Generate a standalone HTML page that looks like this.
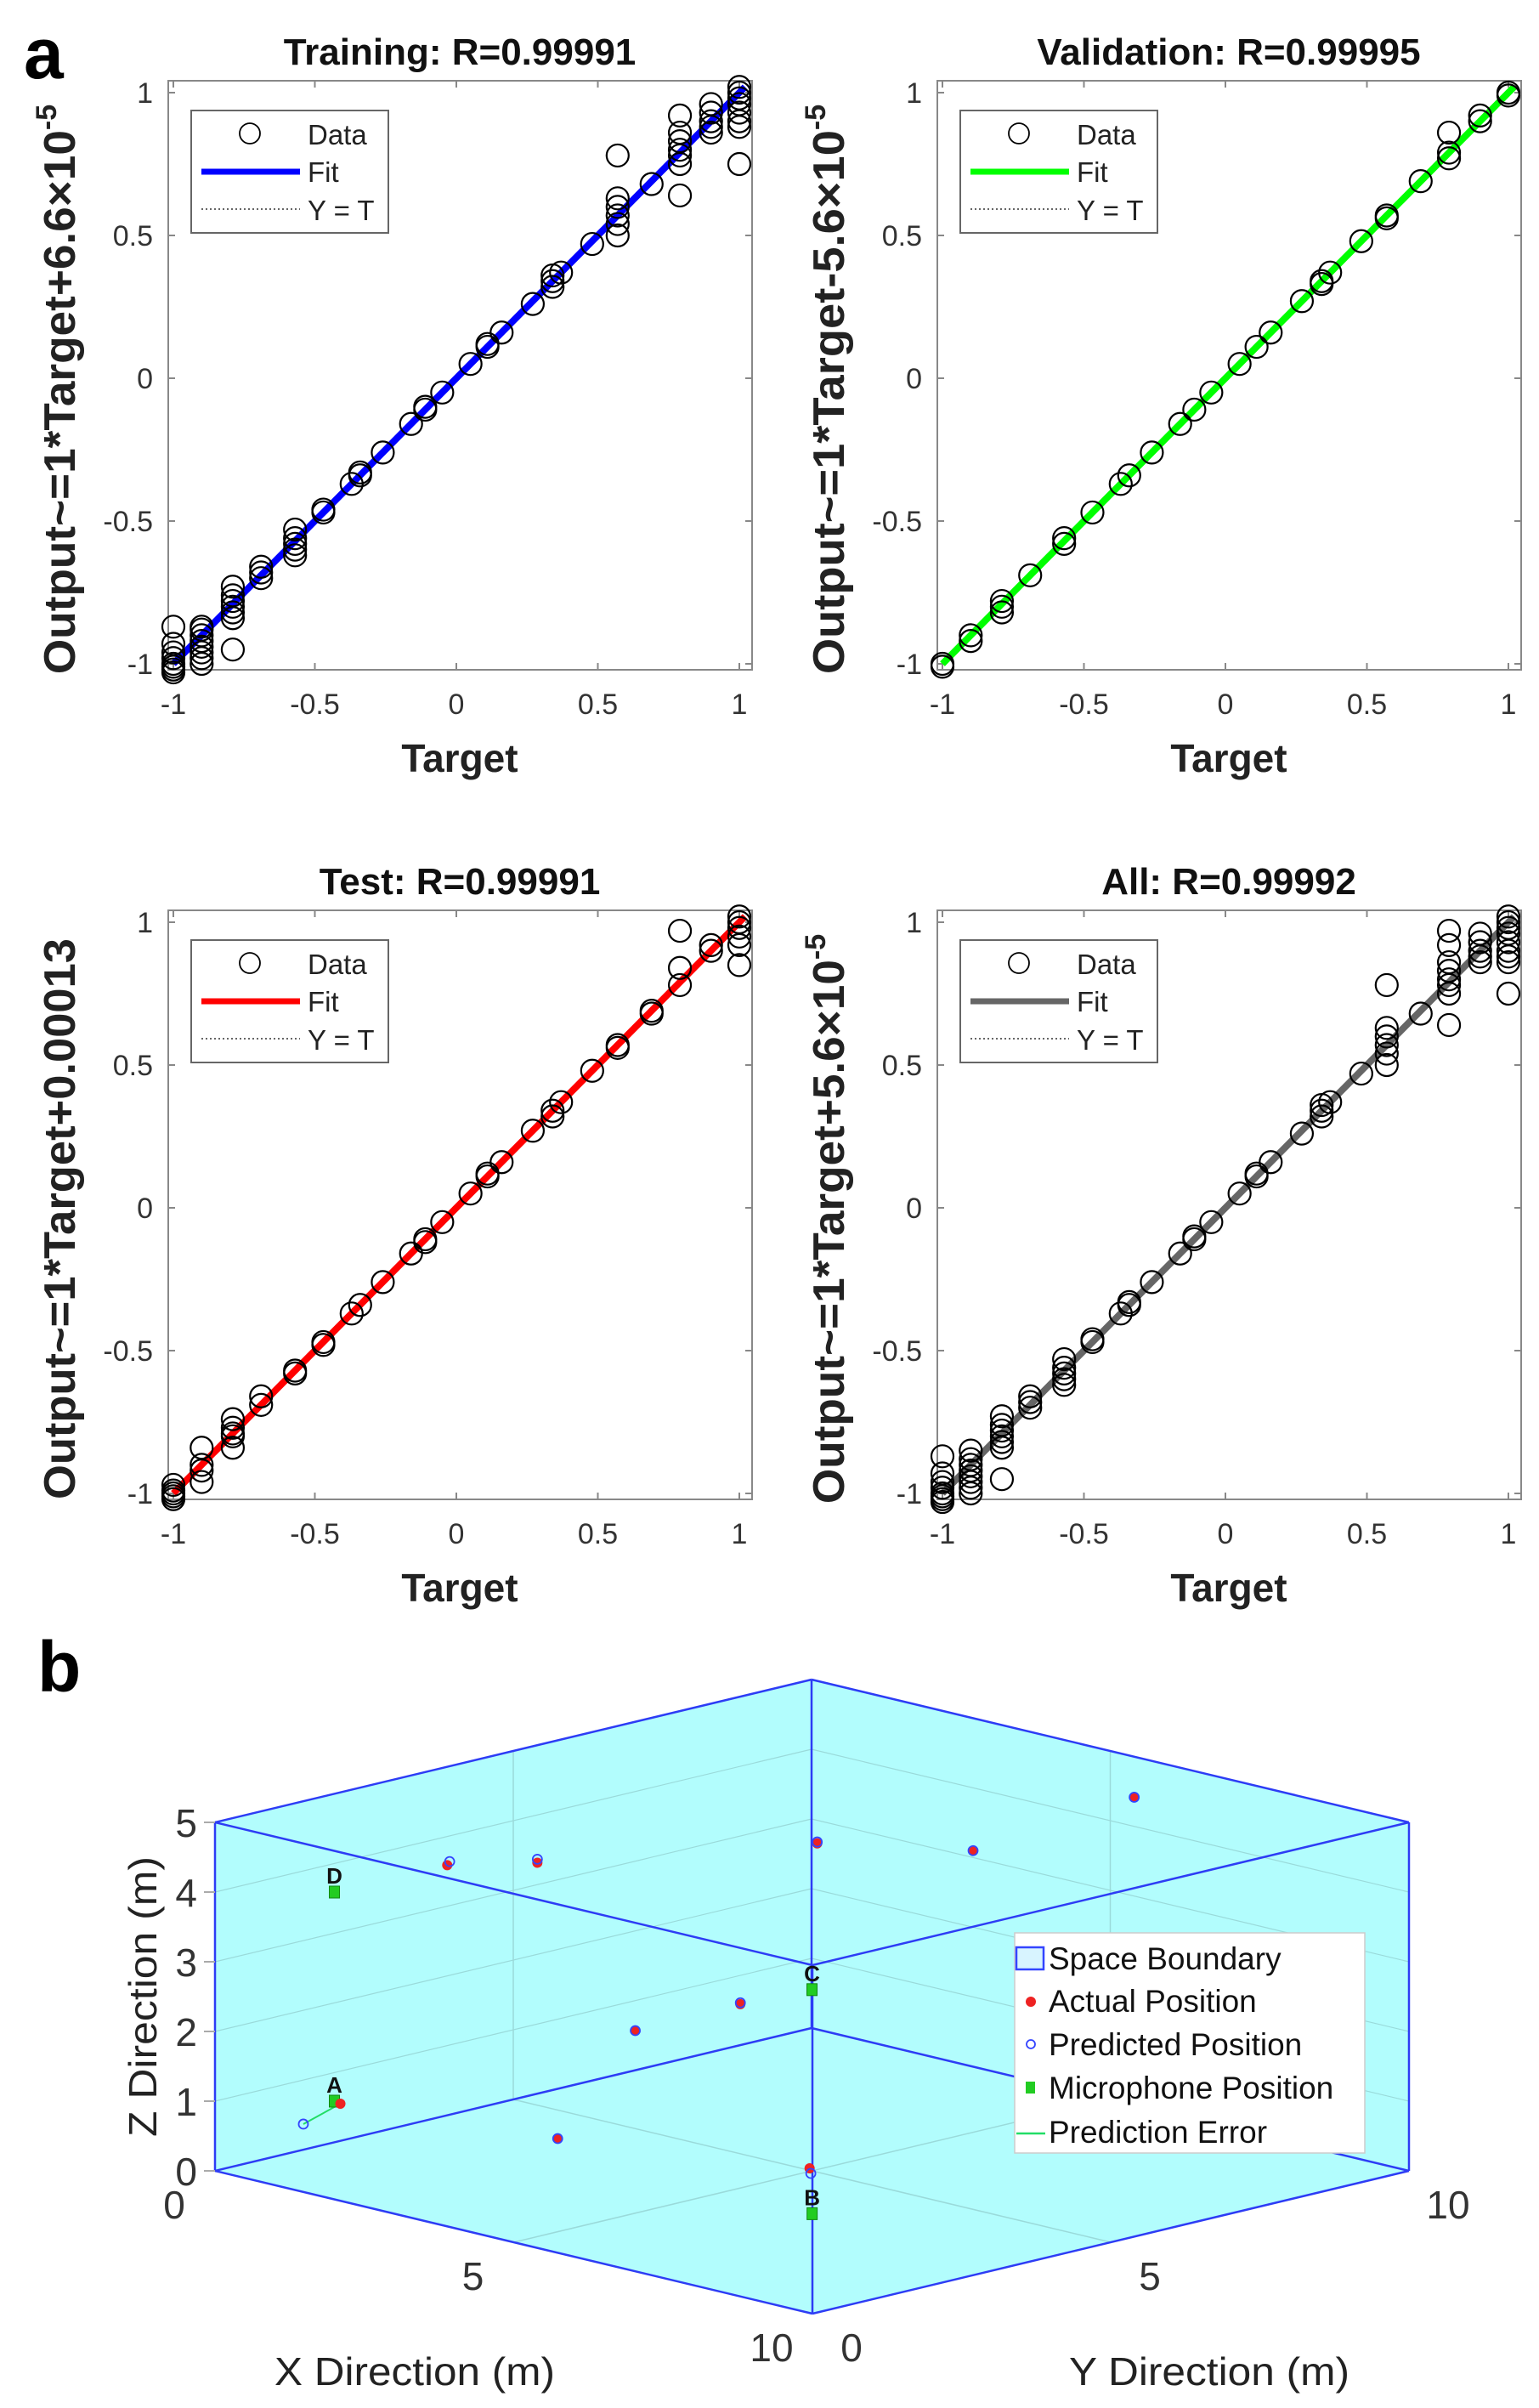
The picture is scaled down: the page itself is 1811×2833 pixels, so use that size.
<!DOCTYPE html>
<html><head><meta charset="utf-8"><style>
html,body{margin:0;padding:0;background:#fff}
svg{display:block}
text{font-family:"Liberation Sans",sans-serif}
</style></head><body>
<svg id="fig" width="1811" height="2833" viewBox="0 0 1811 2833" xmlns="http://www.w3.org/2000/svg">
<text x="28" y="92" font-family="Liberation Serif" font-weight="bold" font-size="84">a</text>
<text x="44" y="1990" font-family="Liberation Serif" font-weight="bold" font-size="84">b</text>
<g id="pa"></g>
<g id="pb"></g>
</svg>
<script>
// ---------- Panel a data ----------
const targets = [-1,-0.9,-0.79,-0.69,-0.57,-0.47,-0.37,-0.34,-0.26,-0.16,-0.11,-0.05,0.05,0.11,0.16,0.27,0.34,0.37,0.48,0.57,0.69,0.79,0.9,1];
const trainOut = [[-0.87,-0.93,-0.96,-0.98,-1,-1.01,-1.02,-1.03],[-0.87,-0.88,-0.9,-0.92,-0.94,-0.96,-0.98,-1.0],[-0.73,-0.76,-0.78,-0.8,-0.82,-0.84,-0.95],[-0.66,-0.68,-0.7],[-0.53,-0.56,-0.58,-0.6,-0.62],[-0.46,-0.47],[-0.37],[-0.33,-0.34],[-0.26],[-0.16],[-0.1,-0.11],[-0.05],[0.05],[0.11,0.12],[0.16],[0.26],[0.32,0.34,0.36],[0.37],[0.47],[0.5,0.54,0.57,0.6,0.63,0.78],[0.68],[0.64,0.75,0.78,0.8,0.83,0.86,0.92],[0.86,0.88,0.9,0.93,0.96],[0.75,0.88,0.9,0.93,0.96,0.98,1,1.02]];
const valOut = [[-1,-1.01],[-0.9,-0.92],[-0.78,-0.8,-0.82],[-0.69],[-0.56,-0.58],[-0.47],[-0.37],[-0.34],[-0.26],[-0.16],[-0.11],[-0.05],[0.05],[0.11],[0.16],[0.27],[0.33,0.34],[0.37],[0.48],[0.56,0.57],[0.69],[0.77,0.79,0.86],[0.9,0.92],[0.99,1.0]];
const testOut = [[-0.97,-0.99,-1,-1.01,-1.02],[-0.84,-0.9,-0.92,-0.96],[-0.74,-0.77,-0.79,-0.8,-0.84],[-0.66,-0.69],[-0.57,-0.58],[-0.47,-0.48],[-0.37],[-0.34],[-0.26],[-0.16],[-0.11,-0.12],[-0.05],[0.05],[0.11,0.12],[0.16],[0.27],[0.32,0.34],[0.37],[0.48],[0.56,0.57],[0.68,0.69],[0.78,0.84,0.97],[0.9,0.92],[0.85,0.92,0.95,0.98,1,1.02]];
const allOut = [[-0.87,-0.93,-0.96,-0.98,-1,-1.01,-1.02,-1.03],[-0.85,-0.88,-0.9,-0.92,-0.94,-0.96,-0.98,-1.0],[-0.73,-0.76,-0.78,-0.8,-0.82,-0.84,-0.95],[-0.66,-0.68,-0.7],[-0.53,-0.56,-0.58,-0.6,-0.62],[-0.46,-0.47],[-0.37],[-0.33,-0.34],[-0.26],[-0.16],[-0.1,-0.11],[-0.05],[0.05],[0.11,0.12],[0.16],[0.26],[0.32,0.34,0.36],[0.37],[0.47],[0.5,0.54,0.57,0.6,0.63,0.78],[0.68],[0.64,0.75,0.78,0.8,0.83,0.86,0.92,0.97],[0.86,0.88,0.9,0.93,0.96],[0.75,0.86,0.88,0.9,0.93,0.96,0.98,1,1.02]];
const panelTitles = ["Training: R=0.99991","Validation: R=0.99995","Test: R=0.99991","All: R=0.99992"];
const panelYLabels = ["Output~=1*Target+6.6\u00d710","Output~=1*Target-5.6\u00d710","Output~=1*Target+0.00013","Output~=1*Target+5.6\u00d710"];
const panelExp = ["-5","-5","","-5"];
const panelSlopes = [1,1,1,1];
const panelIntercepts = [0.000066,-0.000056,0.00013,0.000056];
const tickVals = [-1,-0.5,0,0.5,1];
const tickLabels = ["-1","-0.5","0","0.5","1"];

// ---------- Panel b data ----------
const actualX = [5.6,3.34,4.9,2.65,1.98,4.42,3.49,1.14,2.96,4.89];
const actualY = [9.8,6.75,7.8,2.75,1.91,4.38,3.55,0.96,2.78,5.07];
const actualZ = [4.5,4.0,4.0,4.4,4.4,2.4,2.0,1.0,0.5,0.0];
const predX = [5.6,3.34,4.9,2.65,2.02,4.42,3.49,0.81,2.96,5.08];
const predY = [9.8,6.75,7.8,2.75,1.91,4.38,3.55,0.67,2.78,4.9];
const predZ = [4.5,4.02,4.0,4.45,4.46,2.42,2.0,0.7,0.5,0.0];
const micNames = ["A","B","C","D"];
const micX = [1,6.5,5,1];
const micY = [1,3.5,5,1];
const micZ = [1,0,2.6,4];

const NS="http://www.w3.org/2000/svg";
function mk(parent,tag,attrs,txt){const e=document.createElementNS(NS,tag);for(const k in attrs)e.setAttribute(k,attrs[k]);if(txt!==undefined)e.textContent=txt;parent.appendChild(e);return e;}

const fitColors=["#0000ff","#00ff00","#ff0000","#666666"];
const outs=[trainOut,valOut,testOut,allOut];
const offs=[[0,0],[905,0],[0,976],[905,976]];
const ylabLen=[670,670,660,670];
const pa=document.getElementById('pa');
for(let p=0;p<4;p++){
  const g=mk(pa,'g',{transform:`translate(${offs[p][0]},${offs[p][1]})`});
  
  
  const X=t=>204+333*(t+1), Y=v=>445-336*v;
  const bx=mk(g,'rect',{x:198,y:95,width:687,height:693,fill:'#fff',stroke:'#888','stroke-width':2});
  
  
  tickVals.forEach((t,i)=>{
    mk(g,'line',{x1:X(t),x2:X(t),y1:788,y2:780,stroke:'#888','stroke-width':2});
    mk(g,'line',{x1:X(t),x2:X(t),y1:95,y2:103,stroke:'#888','stroke-width':2});
    mk(g,'line',{x1:198,x2:206,y1:Y(t),y2:Y(t),stroke:'#888','stroke-width':2});
    mk(g,'line',{x1:885,x2:877,y1:Y(t),y2:Y(t),stroke:'#888','stroke-width':2});
    const xl=mk(g,'text',{x:X(t),y:840,'text-anchor':'middle','font-size':34,fill:'#333'},tickLabels[i]);
    
    
    const yl=mk(g,'text',{x:180,y:Y(t)+12,'text-anchor':'end','font-size':34,fill:'#333'},tickLabels[i]);
    
    
  });
  mk(g,'line',{x1:X(-1),y1:Y(-1),x2:X(1.02),y2:Y(1.02),stroke:'#333','stroke-width':1.5,'stroke-dasharray':'2 3'});
  const fl=mk(g,'line',{x1:X(-1),y1:Y(panelSlopes[p]*-1+panelIntercepts[p]),x2:X(1.02),y2:Y(panelSlopes[p]*1.02+panelIntercepts[p]),stroke:fitColors[p],'stroke-width':8});
  
  
  targets.forEach((t,i)=>{
    outs[p][i].forEach(v=>{
      const c=mk(g,'circle',{cx:X(t),cy:Y(v),r:13,fill:'none',stroke:'#000','stroke-width':2.2});
      
      
    });
  });
  const lg=mk(g,'g',{});
  
  
  mk(lg,'rect',{x:225,y:130,width:232,height:144,fill:'#fff',stroke:'#666','stroke-width':2});
  mk(lg,'circle',{cx:294,cy:157,r:12,fill:'none',stroke:'#000','stroke-width':1.8});
  mk(lg,'text',{x:362,y:170,'font-size':33,fill:'#222'},'Data');
  mk(lg,'line',{x1:237,x2:353,y1:202,y2:202,stroke:fitColors[p],'stroke-width':7});
  mk(lg,'text',{x:362,y:214,'font-size':33,fill:'#222'},'Fit');
  mk(lg,'line',{x1:237,x2:353,y1:246,y2:246,stroke:'#333','stroke-width':1.5,'stroke-dasharray':'2 3'});
  mk(lg,'text',{x:362,y:259,'font-size':33,fill:'#222'},'Y = T');
  const tt=mk(g,'text',{x:541,y:76,'text-anchor':'middle','font-size':44,'font-weight':'bold',fill:'#111'},panelTitles[p]);
  
  
  const xt=mk(g,'text',{x:541,y:908,'text-anchor':'middle','font-size':46,'font-weight':'bold',fill:'#222'},'Target');
  
  
  const yt=mk(g,'text',{transform:'translate(88,458) rotate(-90)','text-anchor':'middle','font-size':52,'font-weight':'bold',fill:'#222'});
  
  
  mk(yt,'tspan',{textLength:panelExp[p]?ylabLen[p]-30:ylabLen[p],lengthAdjust:'spacingAndGlyphs'},panelYLabels[p]);
  if(panelExp[p]) mk(yt,'tspan',{dy:-22,'font-size':34},panelExp[p]);
}

// ---------- Panel b ----------
const pb=document.getElementById('pb');
const PX=(x,y,z)=>253+70.3*x+70.2*y, PY=(x,y,z)=>2554+16.8*x-16.8*y-82*z;
const pt=(x,y,z)=>PX(x,y,z).toFixed(1)+','+PY(x,y,z).toFixed(1);
const hex=mk(pb,'polygon',{points:[pt(0,0,0),pt(10,0,0),pt(10,10,0),pt(10,10,5),pt(0,10,5),pt(0,0,5)].join(' '),fill:'#b2fdfd',stroke:'none'});


[5].forEach(v=>{
  mk(pb,'line',{x1:PX(v,0,0),y1:PY(v,0,0),x2:PX(v,10,0),y2:PY(v,10,0),stroke:'#9adada','stroke-width':1.5});
  mk(pb,'line',{x1:PX(0,v,0),y1:PY(0,v,0),x2:PX(10,v,0),y2:PY(10,v,0),stroke:'#9adada','stroke-width':1.5});
  mk(pb,'line',{x1:PX(v,10,0),y1:PY(v,10,0),x2:PX(v,10,5),y2:PY(v,10,5),stroke:'#9adada','stroke-width':1.5});
  mk(pb,'line',{x1:PX(0,v,0),y1:PY(0,v,0),x2:PX(0,v,5),y2:PY(0,v,5),stroke:'#9adada','stroke-width':1.5});
});
[1,2,3,4].forEach(z=>{
  mk(pb,'line',{x1:PX(0,0,z),y1:PY(0,0,z),x2:PX(0,10,z),y2:PY(0,10,z),stroke:'#9adada','stroke-width':1.2});
  mk(pb,'line',{x1:PX(0,10,z),y1:PY(0,10,z),x2:PX(10,10,z),y2:PY(10,10,z),stroke:'#9adada','stroke-width':1.2});
});
const corners=[[0,0,0],[10,0,0],[10,10,0],[0,10,0]];
const edges=[];
for(let i=0;i<4;i++){const a=corners[i],b=corners[(i+1)%4];edges.push([a,b,0]);edges.push([a,b,5]);}
edges.forEach(([a,b,z])=>{const l=mk(pb,'line',{x1:PX(a[0],a[1],z),y1:PY(a[0],a[1],z),x2:PX(b[0],b[1],z),y2:PY(b[0],b[1],z),stroke:'#2d3cf5','stroke-width':2.5});
  
  });
corners.forEach(c=>{mk(pb,'line',{x1:PX(c[0],c[1],0),y1:PY(c[0],c[1],0),x2:PX(c[0],c[1],5),y2:PY(c[0],c[1],5),stroke:'#2d3cf5','stroke-width':2.5});});
for(let z=0;z<=5;z++){
  mk(pb,'line',{x1:253,x2:240,y1:PY(0,0,z),y2:PY(0,0,z),stroke:'#aaa','stroke-width':2});
  const t=mk(pb,'text',{x:232,y:PY(0,0,z)+17,'text-anchor':'end','font-size':46,fill:'#333'},String(z));
  
  
}
[0,5,10].forEach(v=>{
  const t=mk(pb,'text',{x:PX(v,0,0)-48,y:PY(v,0,0)+56,'text-anchor':'middle','font-size':46,fill:'#333'},String(v));
  
  
  const u=mk(pb,'text',{x:PX(10,v,0)+46,y:PY(10,v,0)+56,'text-anchor':'middle','font-size':46,fill:'#333'},String(v));
  
  
});
const xa=mk(pb,'text',{x:488,y:2806,'text-anchor':'middle','font-size':46,fill:'#222',textLength:330,lengthAdjust:'spacingAndGlyphs'},'X Direction (m)');


const ya=mk(pb,'text',{x:1423,y:2806,'text-anchor':'middle','font-size':46,fill:'#222',textLength:330,lengthAdjust:'spacingAndGlyphs'},'Y Direction (m)');


const za=mk(pb,'text',{transform:'translate(184,2349) rotate(-90)','text-anchor':'middle','font-size':46,fill:'#222',textLength:330,lengthAdjust:'spacingAndGlyphs'},'Z Direction (m)');


actualX.forEach((x,i)=>{
  const l=mk(pb,'line',{x1:PX(x,actualY[i],actualZ[i]),y1:PY(x,actualY[i],actualZ[i]),x2:PX(predX[i],predY[i],predZ[i]),y2:PY(predX[i],predY[i],predZ[i]),stroke:'#22dd66','stroke-width':2});
  
  
});
micNames.forEach((n,i)=>{
  const sx=PX(micX[i],micY[i],micZ[i]),sy=PY(micX[i],micY[i],micZ[i]);
  const r=mk(pb,'rect',{x:sx-6,y:sy-7,width:12,height:14,fill:'#22cc22',stroke:'#118811','stroke-width':1});
  
  
  const t=mk(pb,'text',{x:sx,y:sy-10,'text-anchor':'middle','font-size':26,'font-weight':'bold',fill:'#111'},n);
  
  
});
actualX.forEach((x,i)=>{
  const c=mk(pb,'circle',{cx:PX(x,actualY[i],actualZ[i]),cy:PY(x,actualY[i],actualZ[i]),r:6,fill:'#ee2222'});
  
  
  const p=mk(pb,'circle',{cx:PX(predX[i],predY[i],predZ[i]),cy:PY(predX[i],predY[i],predZ[i]),r:5.5,fill:'none',stroke:'#3344ff','stroke-width':1.8});
  
  
});
const lb=mk(pb,'g',{});


mk(lb,'rect',{x:1194,y:2274,width:412,height:259,fill:'#fff',stroke:'#ccc','stroke-width':1.5});
mk(lb,'rect',{x:1196,y:2291,width:32,height:26,fill:'#d8f4ff',stroke:'#3344ff','stroke-width':2.5});
mk(lb,'circle',{cx:1213,cy:2355,r:6,fill:'#ee2222'});
mk(lb,'circle',{cx:1213,cy:2405,r:5,fill:'none',stroke:'#3344ff','stroke-width':1.8});
mk(lb,'rect',{x:1207,y:2449,width:11,height:14,fill:'#22cc22'});
mk(lb,'line',{x1:1196,x2:1230,y1:2510,y2:2510,stroke:'#22dd66','stroke-width':2.5});
const lbl=['Space Boundary','Actual Position','Predicted Position','Microphone Position','Prediction Error'];
const lys=[2317,2367,2418,2469,2521];
lbl.forEach((s,i)=>{const t=mk(lb,'text',{x:1234,y:lys[i],'font-size':37,fill:'#111'},s);
  
  });
</script>
</body></html>
